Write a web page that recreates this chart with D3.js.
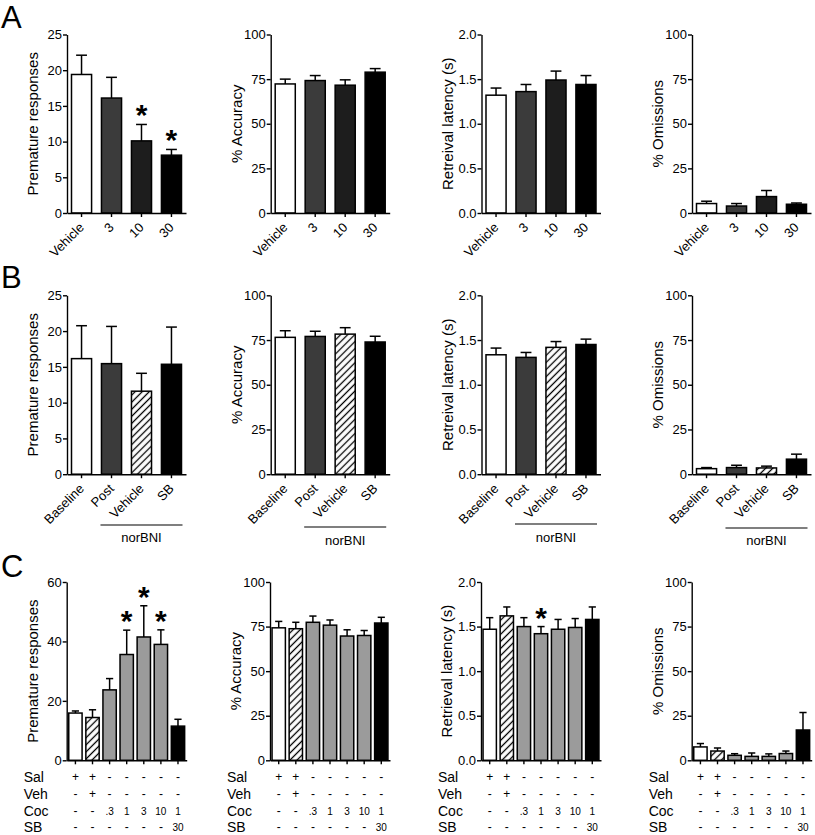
<!DOCTYPE html>
<html><head><meta charset="utf-8">
<script src="https://cdn.jsdelivr.net/npm/d3@7"></script>
<style>
body{margin:0;background:#fff}
text{font-family:"Liberation Sans",Arial,Helvetica,sans-serif;fill:#000}
</style>
</head><body>
<svg id="c" width="815" height="835"></svg>
<script>
// ---------- DATA ----------
const catsA = ["Vehicle", "3", "10", "30"];
const catsB = ["Baseline", "Post", "Vehicle", "SB"];
const catsC = ["Sal", "Sal+Veh", "Coc .3", "Coc 1", "Coc 3", "Coc 10", "Coc 1+SB 30"];

const tableLabels = ["Sal", "Veh", "Coc", "SB"];
const salRow = ["+", "+", "-", "-", "-", "-", "-"];
const vehRow = ["-", "+", "-", "-", "-", "-", "-"];
const cocRow = ["-", "-", ".3", "1", "3", "10", "1"];
const sbRow  = ["-", "-", "-", "-", "-", "-", "30"];

// Row A
const premA = [19.4, 16.1, 10.1, 8.1];      const premAErr = [2.7, 2.9, 2.3, 0.8];
const accA  = [72.3, 74.2, 71.6, 78.9];     const accAErr  = [2.7, 2.8, 3.0, 2.0];
const latA  = [1.32, 1.36, 1.49, 1.44];     const latAErr  = [0.08, 0.08, 0.10, 0.10];
const omA   = [5.3, 3.9, 9.2, 4.9];         const omAErr   = [1.3, 1.4, 3.4, 0.7];
const starsPremA = [0, 0, 1, 1];
// Row B
const premB = [16.15, 15.45, 11.6, 15.36];  const premBErr = [4.6, 5.2, 2.5, 5.2];
const accB  = [76.5, 77.0, 78.3, 73.9];     const accBErr  = [3.7, 2.9, 3.6, 3.2];
const latB  = [1.335, 1.306, 1.418, 1.45];  const latBErr  = [0.075, 0.055, 0.065, 0.06];
const omB   = [3.1, 3.7, 3.5, 8.4];         const omBErr   = [0.6, 1.3, 1.0, 2.8];
// Row C
const premC = [15.9, 14.4, 23.7, 35.6, 41.5, 39.0, 11.5];  const premCErr = [0.7, 2.6, 3.8, 8.2, 10.5, 4.9, 2.3];
const accC  = [74.3, 73.8, 77.4, 75.8, 69.7, 70.0, 77.0];  const accCErr  = [3.6, 3.6, 3.5, 2.9, 3.5, 2.8, 3.2];
const latC  = [1.47, 1.62, 1.50, 1.42, 1.47, 1.49, 1.58];  const latCErr  = [0.13, 0.10, 0.10, 0.08, 0.11, 0.10, 0.14];
const omC   = [7.5, 5.2, 2.8, 2.2, 2.2, 3.8, 17.0];        const omCErr   = [1.9, 1.7, 0.9, 1.9, 1.4, 1.4, 9.8];
const starsPremC = [0, 0, 0, 1, 1, 1, 0];
const starsLatC  = [0, 0, 0, 1, 0, 0, 0];

const ticksPrem25 = [0, 5, 10, 15, 20, 25];
const ticksPrem60 = [0, 20, 40, 60];
const ticksPct = [0, 25, 50, 75, 100];
const ticksLat = [0, 0.5, 1.0, 1.5, 2.0];

// ---------- STYLE / LAYOUT ----------
const fillsA = ["#ffffff", "#3b3b3b", "#1d1d1d", "#000000"];
const fillsB = ["#ffffff", "#3b3b3b", "hatch", "#000000"];
const fillsC = ["#ffffff", "hatch", "#9b9b9b", "#9b9b9b", "#9b9b9b", "#9b9b9b", "#000000"];

const colX = [67, 270.7, 481.5, 692];
const rowsY = {A: [34.5, 213], B: [295.3, 474.2], C: [582, 760.3]};
const norLineY = [525, 527, 524, 528];
const norTextY = [542, 545, 542, 545];
const tableRowY = [777, 794, 811, 827];

const svg = d3.select("#c");
const defs = svg.append("defs");
const pat = defs.append("pattern").attr("id", "hatch").attr("patternUnits", "userSpaceOnUse")
  .attr("width", 5).attr("height", 5).attr("patternTransform", "rotate(45)");
pat.append("rect").attr("width", 5).attr("height", 5).attr("fill", "#fff");
pat.append("line").attr("x1", 2.5).attr("x2", 2.5).attr("y1", 0).attr("y2", 5)
  .attr("stroke", "#000").attr("stroke-width", 1.3);

function panel(o) {
  const g = svg.append("g");
  const n = o.vals.length;
  const w = n === 4 ? 119 : 120;
  const x = d3.scaleBand().domain(d3.range(n)).range([o.x0, o.x0 + w])
    .paddingInner(n === 4 ? 0.33 : 0.22).paddingOuter(n === 4 ? 0.15 : 0.12);
  const y = d3.scaleLinear().domain([0, o.max]).range([o.yBot, o.yTop]);
  const bw = x.bandwidth();
  const cx = i => x(i) + bw / 2;

  // bars
  g.selectAll("rect.bar").data(o.vals).join("rect").attr("class", "bar")
    .attr("x", (d, i) => x(i)).attr("y", d => y(d))
    .attr("width", bw).attr("height", d => o.yBot - y(d))
    .attr("fill", (d, i) => o.fills[i] === "hatch" ? "url(#hatch)" : o.fills[i])
    .attr("stroke", "#000").attr("stroke-width", 1.5);

  // error bars (upper only)
  const eg = g.append("g").attr("stroke", "#000").attr("stroke-width", 1.5);
  o.vals.forEach((v, i) => {
    const top = y(v + o.errs[i]);
    eg.append("line").attr("x1", cx(i)).attr("x2", cx(i)).attr("y1", y(v)).attr("y2", top);
    eg.append("line").attr("x1", cx(i) - bw * 0.27).attr("x2", cx(i) + bw * 0.27).attr("y1", top).attr("y2", top);
  });

  // stars
  if (o.stars) {
    o.vals.forEach((v, i) => {
      if (!o.stars[i]) return;
      g.append("text").attr("x", cx(i)).attr("y", y(v + o.errs[i]) + 1)
        .attr("text-anchor", "middle").style("font-size", "30px").style("font-weight", "bold").text("*");
    });
  }

  // y axis
  const ya = d3.axisLeft(y).tickValues(o.ticks).tickFormat(o.fmt || d3.format("d"))
    .tickSize(4).tickSizeOuter(0).tickPadding(1);
  const yg = g.append("g").attr("transform", `translate(${o.x0},0)`).call(ya);
  yg.selectAll("path,line").attr("stroke", "#000").attr("stroke-width", 1.4);
  yg.selectAll("text").style("font-size", "13px").attr("font-family", null);

  // x axis
  const xa = d3.axisBottom(x).tickSize(4).tickSizeOuter(0).tickFormat("");
  const xg = g.append("g").attr("transform", `translate(0,${o.yBot})`).call(xa);
  xg.selectAll("path,line").attr("stroke", "#000").attr("stroke-width", 1.4);

  // y title
  g.append("text").attr("transform", `translate(${o.x0 - 29},${(o.yTop + o.yBot) / 2}) rotate(-90)`)
    .attr("text-anchor", "middle").style("font-size", "15px").text(o.title);

  // rotated category labels
  if (o.cats) {
    o.cats.forEach((c, i) => {
      g.append("text").attr("transform", `translate(${cx(i)},${o.yBot + 12}) rotate(-45)`)
        .attr("text-anchor", "end").attr("dy", "0.35em").style("font-size", "13px").text(c);
    });
  }
  // norBNI bracket
  if (o.nor != null) {
    const x1 = x(1) - 1, x2 = x(3) + bw + 1;
    g.append("line").attr("x1", x1).attr("x2", x2).attr("y1", norLineY[o.nor]).attr("y2", norLineY[o.nor])
      .attr("stroke", "#000").attr("stroke-width", 1.2);
    g.append("text").attr("x", (x1 + x2) / 2).attr("y", norTextY[o.nor]).attr("text-anchor", "middle")
      .style("font-size", "13px").text("norBNI");
  }
  // treatment table
  if (o.table) {
    const rows = [salRow, vehRow, cocRow, sbRow];
    tableLabels.forEach((lab, r) => {
      g.append("text").attr("x", o.x0 - 43).attr("y", tableRowY[r]).attr("dy", "0.35em")
        .style("font-size", "14px").text(lab);
      rows[r].forEach((v, i) => {
        const isNum = !(v === "+" || v === "-");
        g.append("text").attr("x", cx(i)).attr("y", tableRowY[r]).attr("dy", "0.35em")
          .attr("text-anchor", "middle").style("font-size", isNum ? "10px" : "12px").text(v);
      });
    });
  }
}

// Row A
panel({x0: colX[0], yTop: rowsY.A[0], yBot: rowsY.A[1], vals: premA, errs: premAErr, max: 25, ticks: ticksPrem25, fills: fillsA, title: "Premature responses", cats: catsA, stars: starsPremA});
panel({x0: colX[1], yTop: rowsY.A[0], yBot: rowsY.A[1], vals: accA, errs: accAErr, max: 100, ticks: ticksPct, fills: fillsA, title: "% Accuracy", cats: catsA});
panel({x0: colX[2], yTop: rowsY.A[0], yBot: rowsY.A[1], vals: latA, errs: latAErr, max: 2, ticks: ticksLat, fmt: d3.format(".1f"), fills: fillsA, title: "Retreival latency (s)", cats: catsA});
panel({x0: colX[3], yTop: rowsY.A[0], yBot: rowsY.A[1], vals: omA, errs: omAErr, max: 100, ticks: ticksPct, fills: fillsA, title: "% Omissions", cats: catsA});
// Row B
panel({x0: colX[0], yTop: rowsY.B[0], yBot: rowsY.B[1], vals: premB, errs: premBErr, max: 25, ticks: ticksPrem25, fills: fillsB, title: "Premature responses", cats: catsB, nor: 0});
panel({x0: colX[1], yTop: rowsY.B[0], yBot: rowsY.B[1], vals: accB, errs: accBErr, max: 100, ticks: ticksPct, fills: fillsB, title: "% Accuracy", cats: catsB, nor: 1});
panel({x0: colX[2], yTop: rowsY.B[0], yBot: rowsY.B[1], vals: latB, errs: latBErr, max: 2, ticks: ticksLat, fmt: d3.format(".1f"), fills: fillsB, title: "Retreival latency (s)", cats: catsB, nor: 2});
panel({x0: colX[3], yTop: rowsY.B[0], yBot: rowsY.B[1], vals: omB, errs: omBErr, max: 100, ticks: ticksPct, fills: fillsB, title: "% Omissions", cats: catsB, nor: 3});
// Row C
panel({x0: 66.7, yTop: rowsY.C[0], yBot: rowsY.C[1], vals: premC, errs: premCErr, max: 60, ticks: ticksPrem60, fills: fillsC, title: "Premature responses", stars: starsPremC, table: true});
panel({x0: 270, yTop: rowsY.C[0], yBot: rowsY.C[1], vals: accC, errs: accCErr, max: 100, ticks: ticksPct, fills: fillsC, title: "% Accuracy", table: true});
panel({x0: 481, yTop: rowsY.C[0], yBot: rowsY.C[1], vals: latC, errs: latCErr, max: 2, ticks: ticksLat, fmt: d3.format(".1f"), fills: fillsC, title: "Retrieval latency (s)", stars: starsLatC, table: true});
panel({x0: 691.7, yTop: rowsY.C[0], yBot: rowsY.C[1], vals: omC, errs: omCErr, max: 100, ticks: ticksPct, fills: fillsC, title: "% Omissions", table: true});

// Panel letters
[["A", 28], ["B", 288], ["C", 577]].forEach(([t, yy]) => {
  svg.append("text").attr("x", 1).attr("y", yy).style("font-size", "31px").text(t);
});
</script>
</body></html>
